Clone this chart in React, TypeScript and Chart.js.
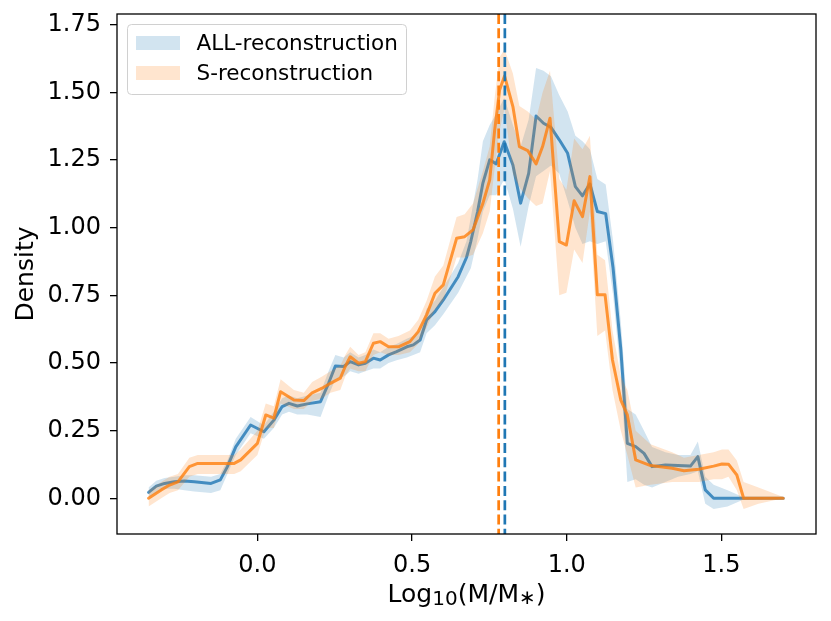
import { useEffect, useRef } from 'react';
import { Chart, registerables } from 'chart.js';

Chart.register(...registerables);

// ALL-reconstruction (blue)
const allX = [-0.352, -0.327, -0.3, -0.268, -0.236, -0.204, -0.15, -0.12, -0.097, -0.07, -0.022, 0.021, 0.053, 0.08, 0.102, 0.129, 0.161, 0.204, 0.23, 0.252, 0.279, 0.3, 0.327, 0.349, 0.375, 0.397, 0.424, 0.45, 0.483, 0.504, 0.526, 0.547, 0.574, 0.601, 0.649, 0.676, 0.69, 0.712, 0.729, 0.751, 0.772, 0.798, 0.826, 0.851, 0.877, 0.901, 0.925, 0.949, 0.976, 1.003, 1.028, 1.051, 1.075, 1.099, 1.126, 1.15, 1.175, 1.196, 1.223, 1.25, 1.276, 1.319, 1.36, 1.4, 1.424, 1.448, 1.475, 1.52, 1.57, 1.7];
const allY = [0.022, 0.045, 0.055, 0.061, 0.064, 0.061, 0.055, 0.068, 0.117, 0.19, 0.271, 0.246, 0.289, 0.339, 0.351, 0.341, 0.349, 0.357, 0.425, 0.489, 0.487, 0.505, 0.493, 0.499, 0.518, 0.511, 0.53, 0.542, 0.56, 0.567, 0.585, 0.659, 0.69, 0.733, 0.819, 0.89, 0.95, 1.06, 1.165, 1.251, 1.236, 1.318, 1.232, 1.091, 1.201, 1.413, 1.386, 1.371, 1.325, 1.275, 1.152, 1.118, 1.162, 1.06, 1.052, 0.85, 0.55, 0.203, 0.191, 0.166, 0.117, 0.123, 0.121, 0.119, 0.154, 0.031, 0, 0, 0, 0];
const allLo = [0.005, 0.02, 0.035, 0.035, 0.03, 0.025, 0.02, 0.03, 0.09, 0.16, 0.24, 0.22, 0.26, 0.31, 0.32, 0.31, 0.31, 0.3, 0.38, 0.44, 0.45, 0.47, 0.46, 0.47, 0.48, 0.48, 0.5, 0.51, 0.52, 0.53, 0.54, 0.61, 0.64, 0.68, 0.76, 0.82, 0.85, 0.96, 1.06, 1.12, 1.12, 1.18, 1.07, 0.93, 1.08, 1.19, 1.21, 1.23, 1.2, 1.1, 1.0, 0.94, 0.95, 0.94, 0.95, 0.75, 0.45, 0.06, 0.07, 0.05, 0.04, 0.06, 0.08, 0.09, 0.1, -0.02, -0.04, -0.03, -0.005, 0];
const allHi = [0.04, 0.065, 0.075, 0.08, 0.085, 0.085, 0.08, 0.09, 0.14, 0.22, 0.3, 0.27, 0.32, 0.37, 0.38, 0.37, 0.38, 0.39, 0.47, 0.53, 0.52, 0.54, 0.52, 0.53, 0.55, 0.54, 0.56, 0.57, 0.59, 0.6, 0.62, 0.7, 0.73, 0.78, 0.87, 0.95, 1.04, 1.18, 1.32, 1.38, 1.42, 1.48, 1.38, 1.3, 1.4, 1.59, 1.58, 1.56, 1.49, 1.43, 1.34, 1.32, 1.29, 1.18, 1.16, 0.95, 0.65, 0.33, 0.31, 0.25, 0.19, 0.17, 0.16, 0.16, 0.21, 0.08, 0.05, 0.03, 0.005, 0];

// S-reconstruction (orange)
const sX = [-0.352, -0.311, -0.284, -0.257, -0.22, -0.193, -0.075, -0.054, 0.0, 0.027, 0.053, 0.075, 0.118, 0.15, 0.177, 0.209, 0.236, 0.268, 0.284, 0.3, 0.327, 0.349, 0.375, 0.397, 0.424, 0.456, 0.493, 0.52, 0.547, 0.574, 0.601, 0.644, 0.67, 0.697, 0.729, 0.751, 0.767, 0.783, 0.799, 0.826, 0.847, 0.874, 0.901, 0.922, 0.946, 0.976, 0.999, 1.024, 1.051, 1.075, 1.099, 1.124, 1.148, 1.175, 1.196, 1.223, 1.271, 1.341, 1.379, 1.427, 1.475, 1.502, 1.523, 1.55, 1.572, 1.62, 1.7];
const sY = [0.0, 0.031, 0.049, 0.061, 0.117, 0.129, 0.129, 0.142, 0.203, 0.308, 0.296, 0.394, 0.363, 0.361, 0.39, 0.407, 0.425, 0.444, 0.487, 0.523, 0.499, 0.505, 0.573, 0.579, 0.56, 0.56, 0.579, 0.616, 0.678, 0.758, 0.789, 0.961, 0.967, 0.992, 1.09, 1.177, 1.36, 1.509, 1.561, 1.448, 1.3, 1.285, 1.236, 1.3, 1.405, 0.949, 0.936, 1.1, 1.041, 1.189, 0.752, 0.752, 0.511, 0.363, 0.308, 0.142, 0.121, 0.111, 0.102, 0.107, 0.119, 0.127, 0.126, 0.086, 0, 0, 0];
const sLo = [-0.03, 0.0, 0.02, 0.03, 0.08, 0.09, 0.09, 0.1, 0.16, 0.26, 0.26, 0.35, 0.33, 0.33, 0.36, 0.37, 0.39, 0.4, 0.45, 0.48, 0.47, 0.47, 0.53, 0.54, 0.53, 0.53, 0.54, 0.57, 0.63, 0.7, 0.73, 0.89, 0.89, 0.9, 0.98, 1.06, 1.22, 1.36, 1.44, 1.2, 1.15, 1.11, 1.08, 1.09, 1.21, 0.75, 0.76, 0.92, 0.87, 1.06, 0.6, 0.62, 0.4, 0.25, 0.16, 0.04, 0.05, 0.06, 0.06, 0.06, 0.07, 0.07, 0.08, 0.03, -0.04, -0.02, 0];
const sHi = [0.03, 0.06, 0.08, 0.09, 0.15, 0.16, 0.16, 0.18, 0.25, 0.35, 0.34, 0.44, 0.4, 0.39, 0.43, 0.45, 0.47, 0.49, 0.53, 0.56, 0.53, 0.54, 0.61, 0.61, 0.59, 0.6, 0.62, 0.66, 0.73, 0.82, 0.86, 1.04, 1.05, 1.09, 1.21, 1.3, 1.48, 1.63, 1.66, 1.57, 1.45, 1.43, 1.4, 1.5, 1.58, 1.18, 1.14, 1.33, 1.29, 1.34, 0.9, 0.88, 0.62, 0.45, 0.4, 0.25, 0.2, 0.17, 0.15, 0.16, 0.17, 0.18, 0.18, 0.14, 0.06, 0.04, 0.005];

const allMedian = 0.8;
const sMedian = 0.78;

const xTicks = [0, 0.5, 1.0, 1.5];
const yTicks = [0, 0.25, 0.5, 0.75, 1.0, 1.25, 1.5, 1.75];

const BLUE = '#1f77b4';
const ORANGE = '#ff7f0e';
const BLUE_LINE = 'rgba(31,119,180,0.8)';
const ORANGE_LINE = 'rgba(255,127,14,0.8)';
const BLUE_BAND = 'rgba(31,119,180,0.2)';
const ORANGE_BAND = 'rgba(255,127,14,0.2)';
const FONT = '"DejaVu Sans", sans-serif';

const pts = (xs: number[], ys: number[]) => xs.map((x, i) => ({ x, y: ys[i] }));

// x label pieces: text, font size, baseline shift
const xLabelParts: [string, number, number][] = [
  ['Log', 25, 0],
  ['10', 20, 3],
  ['(M/M', 25, 0],
  ['∗', 20, 2],
  [')', 25, 0],
];

const decorPlugin = {
  id: 'decor',
  afterDatasetsDraw(chart: any) {
    const { ctx, chartArea, scales } = chart;
    const { left, right, top, bottom } = chartArea;
    ctx.save();
    // median lines
    ctx.lineWidth = 2.7;
    ctx.setLineDash([10, 4.3]);
    [[sMedian, ORANGE], [allMedian, BLUE]].forEach(([v, c]: any) => {
      const px = scales.x.getPixelForValue(v);
      ctx.strokeStyle = c;
      ctx.beginPath();
      ctx.moveTo(px, top);
      ctx.lineTo(px, bottom);
      ctx.stroke();
    });
    ctx.setLineDash([]);
    // frame
    ctx.strokeStyle = '#000';
    ctx.lineWidth = 1.3;
    ctx.strokeRect(left, top, right - left, bottom - top);
    // legend
    const lx = left + 10.5;
    const ly = top + 10.5;
    ctx.beginPath();
    ctx.roundRect(lx, ly, 279, 70, 4);
    ctx.fillStyle = 'rgba(255,255,255,0.8)';
    ctx.fill();
    ctx.strokeStyle = '#d0d0d0';
    ctx.lineWidth = 1;
    ctx.stroke();
    const items: [string, string][] = [
      ['ALL-reconstruction', BLUE_BAND],
      ['S-reconstruction', ORANGE_BAND],
    ];
    ctx.font = `21.5px ${FONT}`;
    ctx.textBaseline = 'middle';
    ctx.textAlign = 'left';
    items.forEach(([label, color], i) => {
      const cy = ly + 18.5 + i * 30;
      ctx.fillStyle = color;
      ctx.fillRect(lx + 8.5, cy - 7, 44, 14);
      ctx.fillStyle = '#000';
      ctx.fillText(label, lx + 69, cy + 1);
    });
    // x title
    ctx.fillStyle = '#000';
    ctx.textBaseline = 'alphabetic';
    ctx.textAlign = 'left';
    let total = 0;
    xLabelParts.forEach(([t, size]) => {
      ctx.font = `${size}px ${FONT}`;
      total += ctx.measureText(t).width;
    });
    let cx = (left + right) / 2 - total / 2;
    xLabelParts.forEach(([t, size, shift]) => {
      ctx.font = `${size}px ${FONT}`;
      ctx.fillText(t, cx, 602 + shift);
      cx += ctx.measureText(t).width;
    });
    // y title
    ctx.font = `25px ${FONT}`;
    ctx.textAlign = 'center';
    ctx.save();
    ctx.translate(33, (top + bottom) / 2);
    ctx.rotate(-Math.PI / 2);
    ctx.fillText('Density', 0, 0);
    ctx.restore();
    ctx.restore();
  },
};

export default function App() {
  const canvasRef = useRef<HTMLCanvasElement>(null);
  const chartRef = useRef<Chart | null>(null);

  useEffect(() => {
    if (!canvasRef.current) return;
    if (chartRef.current) chartRef.current.destroy();

    const line = {
      pointRadius: 0,
      tension: 0,
      borderJoinStyle: 'round' as const,
      borderCapStyle: 'round' as const,
    };

    chartRef.current = new Chart(canvasRef.current, {
      type: 'line',
      data: {
        datasets: [
          { ...line, data: pts(allX, allLo), borderWidth: 0, fill: false, order: 6 },
          { ...line, data: pts(allX, allHi), borderWidth: 0, fill: '-1', backgroundColor: BLUE_BAND, order: 5 },
          { ...line, data: pts(allX, allY), borderWidth: 3, borderColor: BLUE_LINE, fill: false, order: 4 },
          { ...line, data: pts(sX, sLo), borderWidth: 0, fill: false, order: 3 },
          { ...line, data: pts(sX, sHi), borderWidth: 0, fill: '-1', backgroundColor: ORANGE_BAND, order: 2 },
          { ...line, data: pts(sX, sY), borderWidth: 3, borderColor: ORANGE_LINE, fill: false, order: 1 },
        ],
      },
      options: {
        responsive: false,
        animation: false,
        devicePixelRatio: 1,
        layout: { padding: { top: 14, right: 15, left: 0, bottom: 0 } },
        plugins: { legend: { display: false }, tooltip: { enabled: false } },
        scales: {
          x: {
            type: 'linear',
            min: -0.454,
            max: 1.806,
            afterFit: (s: any) => {
              s.height = 87;
              s.paddingLeft = 0;
              s.paddingRight = 0;
            },
            afterBuildTicks: (s: any) => { s.ticks = xTicks.map((value) => ({ value })); },
            ticks: {
              color: '#000',
              font: { family: FONT, size: 24 },
              padding: 10,
              maxRotation: 0,
              callback: (v: any) => Number(v).toFixed(1),
            },
            grid: { drawOnChartArea: false, tickLength: 7, color: '#000', lineWidth: 1.3 },
            border: { display: false },
          },
          y: {
            type: 'linear',
            min: -0.132,
            max: 1.79,
            afterFit: (s: any) => {
              s.width = 117;
              s.paddingTop = 0;
              s.paddingBottom = 0;
            },
            afterBuildTicks: (s: any) => { s.ticks = yTicks.map((value) => ({ value })); },
            ticks: {
              color: '#000',
              font: { family: FONT, size: 24 },
              padding: 9,
              callback: (v: any) => Number(v).toFixed(2),
            },
            grid: { drawOnChartArea: false, tickLength: 7, color: '#000', lineWidth: 1.3 },
            border: { display: false },
          },
        },
      },
      plugins: [decorPlugin],
    } as any);

    return () => {
      if (chartRef.current) {
        chartRef.current.destroy();
        chartRef.current = null;
      }
    };
  }, []);

  return (
    <div style={{ position: 'absolute', left: 0, top: 0, width: 831, height: 621, background: '#fff' }}>
      <canvas ref={canvasRef} width={831} height={621}></canvas>
    </div>
  );
}
